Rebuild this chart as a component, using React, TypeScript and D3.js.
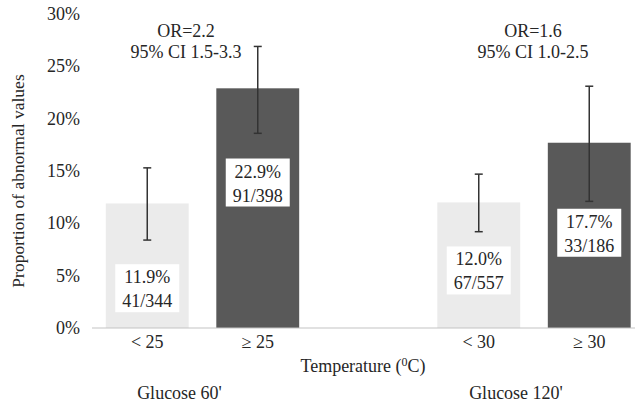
import { useEffect, useRef } from 'react'
import * as d3 from 'd3'

// data
const categories = ['< 25', '≥ 25', '', '< 30', '≥ 30']
const groups = ['lo', 'hi', 'gap', 'lo', 'hi']
const values = [11.9, 22.9, null, 12.0, 17.7]
const ciLow = [8.4, 18.6, null, 9.2, 12.1]
const ciHigh = [15.3, 26.9, null, 14.7, 23.1]
const counts = ['41/344', '91/398', '', '67/557', '33/186']
const yTicks = [0, 5, 10, 15, 20, 25, 30]
const oddsLabels = [
  ['OR=2.2', '95% CI 1.5-3.3'],
  ['OR=1.6', '95% CI 1.0-2.5'],
]
const panelLabels = ["Glucose 60'", "Glucose 120'"]

export default function App() {
  const svgRef = useRef<SVGSVGElement>(null)

  useEffect(() => {
    const width = 635, height = 405
    const svg = d3.select(svgRef.current)
    svg.selectAll('*').remove()
    svg.attr('width', width).attr('height', height)
      .attr('font-family', 'Liberation Serif')

    const ink = '#262626'

    const x = d3.scaleBand<number>()
      .domain(d3.range(categories.length))
      .range([92, 644.5])
      .paddingInner(0.25)
      .paddingOuter(0.125)
    const y = d3.scaleLinear().domain([0, 30]).range([328, 14])

    // y tick labels
    svg.append('g').selectAll('text')
      .data(yTicks)
      .enter().append('text')
      .attr('x', 80)
      .attr('y', d => y(d) + 6)
      .attr('text-anchor', 'end')
      .attr('font-size', 18)
      .attr('fill', ink)
      .text(d => d + '%')

    // y title
    svg.append('text')
      .attr('transform', `translate(24, 181) rotate(-90)`)
      .attr('text-anchor', 'middle')
      .attr('font-size', 17.5)
      .attr('fill', ink)
      .text('Proportion of abnormal values')

    // bars
    const idx = d3.range(categories.length).filter(i => values[i] != null)
    svg.append('g').selectAll('rect')
      .data(idx)
      .enter().append('rect')
      .attr('x', i => x(i)!)
      .attr('width', x.bandwidth())
      .attr('y', i => y(values[i]!))
      .attr('height', i => y(0) - y(values[i]!))
      .attr('fill', i => groups[i] === 'lo' ? '#ebebeb' : '#595959')

    // axis line
    svg.append('line')
      .attr('x1', 92).attr('x2', width)
      .attr('y1', y(0)).attr('y2', y(0))
      .attr('stroke', '#c4c4c4')
      .attr('stroke-width', 1.2)

    // error bars
    const eb = svg.append('g').attr('stroke', '#333').attr('stroke-width', 1.5)
    idx.forEach(i => {
      const cx = x(i)! + x.bandwidth() / 2
      eb.append('line').attr('x1', cx).attr('x2', cx).attr('y1', y(ciLow[i]!)).attr('y2', y(ciHigh[i]!))
      ;[ciLow[i]!, ciHigh[i]!].forEach(v => {
        eb.append('line').attr('x1', cx - 4).attr('x2', cx + 4).attr('y1', y(v)).attr('y2', y(v))
      })
    })

    // value label boxes (centre heights, in % units, as placed in the original)
    const labelAt = [3.8, 13.9, null, 5.5, 9.1]
    idx.forEach(i => {
      const cx = x(i)! + x.bandwidth() / 2
      const cy = y(labelAt[i]!)
      const g = svg.append('g')
      g.append('rect')
        .attr('x', cx - 32).attr('y', cy - 24)
        .attr('width', 64).attr('height', 48)
        .attr('fill', '#fff')
      ;[values[i]!.toFixed(1) + '%', counts[i]].forEach((t, k) => {
        g.append('text')
          .attr('x', cx)
          .attr('y', cy - 5 + k * 24)
          .attr('text-anchor', 'middle')
          .attr('font-size', 18)
          .attr('fill', ink)
          .text(t)
      })
    })

    // category labels
    svg.append('g').selectAll('text')
      .data(idx)
      .enter().append('text')
      .attr('x', i => x(i)! + x.bandwidth() / 2)
      .attr('y', 348)
      .attr('text-anchor', 'middle')
      .attr('font-size', 18)
      .attr('fill', ink)
      .text(i => categories[i])

    // x title
    const xt = svg.append('text')
      .attr('x', 363).attr('y', 372)
      .attr('text-anchor', 'middle')
      .attr('font-size', 18)
      .attr('fill', ink)
    xt.append('tspan').text('Temperature (')
    xt.append('tspan').attr('dy', -6).attr('font-size', 12).text('0')
    xt.append('tspan').attr('dy', 6).text('C)')

    // odds ratio annotations
    const orX = [186, 533]
    oddsLabels.forEach((lines, k) => {
      lines.forEach((t, j) => {
        svg.append('text')
          .attr('x', orX[k]).attr('y', 37 + j * 21)
          .attr('text-anchor', 'middle')
          .attr('font-size', 18)
          .attr('fill', ink)
          .text(t)
      })
    })

    // panel labels
    const panelX = [179.5, 516]
    panelLabels.forEach((t, k) => {
      svg.append('text')
        .attr('x', panelX[k]).attr('y', 399)
        .attr('text-anchor', 'middle')
        .attr('font-size', 18)
        .attr('fill', ink)
        .text(t)
    })
  }, [])

  return (
    <div style={{ position: 'absolute', left: 0, top: 0, background: '#fff' }}>
      <svg ref={svgRef} style={{ display: 'block' }} />
    </div>
  )
}
